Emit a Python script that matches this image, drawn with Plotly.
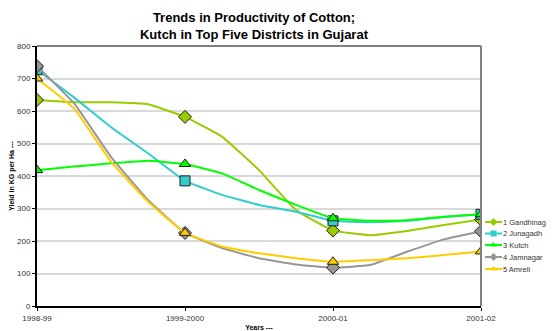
import plotly.graph_objects as go

# Years on the x axis and the readings along each line (quarter-year steps)
years = ['1998-99', '1999-2000', '2000-01', '2001-02']
steps = [0, 0.25, 0.5, 0.75, 1, 1.25, 1.5, 1.75, 2, 2.25, 2.5, 2.75, 3]

districts = ['1 Gandhinaga', '2 Junagadh', '3 Kutch', '4 Jamnagar', '5 Amreli']
gandhinagar = [634, 627, 627, 621, 582, 521, 418, 295, 232, 218, 231, 249, 266]
junagadh = [727, 642, 550, 470, 385, 342, 311, 290, 262, 258, 262, 274, 282]
kutch = [418, 429, 439, 447, 437, 408, 357, 311, 270, 262, 264, 275, 282]
jamnagar = [738, 624, 459, 326, 225, 178, 147, 128, 118, 126, 167, 205, 230]
amreli = [700, 608, 444, 321, 225, 183, 162, 147, 136, 141, 147, 157, 168]

series = [gandhinagar, junagadh, kutch, jamnagar, amreli]
colors = ['#99CC00', '#33CCCC', '#00FF00', '#969696', '#FFCC00']
symbols = ['diamond', 'square', 'triangle-up', 'diamond', 'triangle-up']

font = 'Arial, Liberation Sans, sans-serif'
# the page body adds an 8px margin, so the figure is sized to fill the rest
W, H = 546, 323
L, T, B = 29, 38, 25
plot_w = 444
paper_w = W - L
paper_h = H - T - B

fig = go.Figure()

for name, vals, col, sym in zip(districts, series, colors, symbols):
    # markers only on the yearly points
    yearly_x = [s for s in steps if s == int(s)]
    yearly_y = [v for s, v in zip(steps, vals) if s == int(s)]
    fig.add_trace(go.Scatter(
        x=steps, y=vals, name=name, mode='lines', showlegend=False,
        line=dict(color=col, width=2, shape='spline', smoothing=0.3),
        hoverinfo='skip',
    ))
    fig.add_trace(go.Scatter(
        x=yearly_x, y=yearly_y, name=name, mode='markers', showlegend=False,
        marker=dict(symbol=sym, size=10, color=col,
                    line=dict(color='#202020', width=1)),
    ))

# small hand-made legend on hidden axes (rows ~12 px apart, tighter than plotly's)
legend_rows = [176, 187.5, 199, 211, 223]   # px below plot top
for name, col, sym, py in zip(districts, colors, symbols, legend_rows):
    ry = 1 - py / paper_h
    fig.add_trace(go.Scatter(
        x=[0, 1], y=[ry, ry], mode='lines', xaxis='x2', yaxis='y2',
        line=dict(color=col, width=2), showlegend=False, hoverinfo='skip',
    ))
    fig.add_trace(go.Scatter(
        x=[0.5], y=[ry], mode='markers', xaxis='x2', yaxis='y2',
        marker=dict(symbol=sym, size=6, color=col), showlegend=False, hoverinfo='skip',
    ))
    fig.add_annotation(
        x=464 / paper_w, y=ry, xref='paper', yref='paper', text=name, showarrow=False,
        xanchor='left', yanchor='middle',
        font=dict(family=font, size=7.5, color='#333333'),
    )

fig.update_layout(
    width=W, height=H,
    margin=dict(l=L, r=0, t=T, b=B),
    paper_bgcolor='white', plot_bgcolor='white',
    font=dict(family=font, size=8, color='#333333'),
    title=dict(
        text='<b>Trends in Productivity of Cotton;<br>Kutch in Top Five Districts in Gujarat</b>',
        xref='paper', x=217 / paper_w, xanchor='center',
        yref='container', y=1 - 14 / H, yanchor='top',
        font=dict(size=13, color='black'),
    ),
    showlegend=False,
    xaxis=dict(
        domain=[0, plot_w / paper_w],
        range=[0, 3], tickvals=[0, 1, 2, 3], ticktext=years,
        showgrid=False, zeroline=False, automargin=False,
        showline=True, linecolor='black', linewidth=2,
        ticks='outside', ticklen=3, tickwidth=1, tickcolor='black',
        tickfont=dict(size=8, color='#333333'),
        title=dict(text='<b>Years ---</b>', font=dict(size=7, color='black'), standoff=15),
    ),
    yaxis=dict(
        range=[0, 800], dtick=100,
        showgrid=True, gridcolor='#D9D9D9', gridwidth=1.5,
        zeroline=False, automargin=False,
        showline=True, linecolor='black', linewidth=2,
        ticks='outside', ticklen=3, tickwidth=1, tickcolor='black',
        tickfont=dict(size=8, color='#333333'),
        title=dict(text='<b>Yield in KG per Ha ---</b>', font=dict(size=7, color='black'), standoff=2),
    ),
    xaxis2=dict(domain=[448 / paper_w, 465 / paper_w], range=[0, 1],
                visible=False, anchor='y2', automargin=False),
    yaxis2=dict(domain=[0, 1], range=[0, 1], visible=False, anchor='x2', automargin=False),
)

# gray frame on top and right edges of the plot area
fig.add_shape(type='line', xref='x domain', yref='y domain', x0=0, x1=1, y0=1, y1=1,
              line=dict(color='#808080', width=2))
fig.add_shape(type='line', xref='x domain', yref='y domain', x0=1, x1=1, y0=0, y1=1,
              line=dict(color='#808080', width=2))

fig.write_html('out.html')
